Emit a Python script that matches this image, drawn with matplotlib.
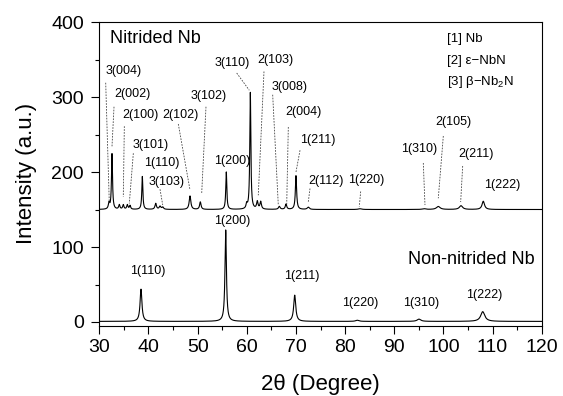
import numpy as np
import matplotlib
matplotlib.use("Agg")
import matplotlib.pyplot as plt

plt.rcParams["font.family"] = ["Liberation Sans", "DejaVu Sans"]
plt.rcParams["mathtext.fontset"] = "custom"
plt.rcParams["mathtext.rm"] = "Liberation Sans"
plt.rcParams["mathtext.it"] = "Liberation Sans"

# Picos de la muestra sin nitrurar (2theta, altura, ancho)
base_pos = [38.48, 55.71, 69.75, 82.48, 95.03, 108.0]
base_alt = [43, 122, 35, 1.5, 3, 13]
base_anc = [0.45, 0.35, 0.5, 0.8, 0.9, 1.0]
base_fondo = 0.8

# Picos de la muestra nitrurada (2theta, altura sobre el fondo, ancho)
nit_pos = [31.97, 32.58, 34.07, 34.88, 35.7, 36.25, 38.75, 41.47, 42.35, 42.9,
           48.45, 50.55, 55.83, 59.98, 60.72, 62.14, 62.83, 66.62, 67.98, 70.01,
           72.51, 83.03, 96.05, 98.96, 103.58, 108.11]
nit_alt = [8, 74, 6, 6, 6, 5, 44, 8, 4, 3,
           18, 10, 50, 6, 156, 10, 10, 4, 7, 45,
           3, 1, 1, 4, 5, 11]
nit_anc = [0.3, 0.25, 0.3, 0.3, 0.3, 0.3, 0.25, 0.35, 0.4, 0.4,
           0.4, 0.35, 0.25, 0.3, 0.25, 0.35, 0.35, 0.4, 0.35, 0.3,
           0.5, 0.8, 0.8, 0.9, 0.8, 0.6]
nit_fondo = 150

# Etiquetas de la muestra nitrurada: texto, posicion, inicio y fin de la linea guia
nit_etiquetas = ["3(004)", "2(002)", "2(100)", "2(102)", "3(101)", "1(110)", "3(103)",
                 "3(102)", "1(200)", "3(110)", "2(103)", "3(008)", "2(004)", "1(211)",
                 "2(112)", "1(220)", "1(310)", "2(105)", "2(211)", "1(222)"]
nit_etq_x = [34.88, 36.65, 38.28, 46.42, 40.52, 42.69, 43.71, 52.17, 56.93, 56.93,
             65.74, 68.65, 71.5, 74.35, 76.12, 84.39, 95.03, 102.01, 106.57, 111.86]
nit_etq_y = [335, 304, 276, 276, 236, 212, 187, 301, 215, 346,
             350, 314, 280, 243, 188, 190, 231, 267, 224, 183]

guia_x0 = [31.3, 32.99, 35.09, 46.07, 36.92, 42.35, 51.7, 57.95, 63.5, 65.27,
           68.45, 70.83, 72.86, 83.17, 95.91, 99.98, 103.92]
guia_y0 = [319, 287, 261, 264, 225, 177, 287, 332, 334, 303,
           260, 229, 178, 174, 212, 248, 208]
guia_x1 = [32.03, 32.58, 34.88, 48.45, 36.1, 42.9, 50.83, 60.51, 62.34, 66.41,
           68.12, 70.01, 72.51, 82.89, 96.25, 98.96, 103.51]
guia_y1 = [159, 234, 167, 176, 158, 156, 172, 309, 169, 156,
           156, 200, 160, 154, 156, 165, 160]

# Etiquetas de la muestra sin nitrurar
base_etiquetas = ["1(110)", "1(200)", "1(211)", "1(220)", "1(310)", "1(222)"]
base_etq_x = [39.76, 56.93, 71.17, 83.17, 95.38, 108.25]
base_etq_y = [68, 135, 61, 25, 25, 36]

leyenda = ["[1] Nb", "[2] \u03b5\u2212NbN", "[3] $\\beta$\u2212Nb$_2$N"]


# Perfil de difraccion a partir de la lista de picos
def perfil(x, pos, alt, anc, fondo):
    y = np.full_like(x, fondo)
    for p, h, w in zip(pos, alt, anc):
        y += h / (1 + ((x - p) / (w / 2)) ** 2)
    return y


x = np.linspace(30, 120, 6000)
y_base = perfil(x, base_pos, base_alt, base_anc, base_fondo)
y_nit = perfil(x, nit_pos, nit_alt, nit_anc, nit_fondo)

fig = plt.figure(figsize=(5.63, 3.96), dpi=100)
ax = fig.add_axes([0.1764, 0.1774, 0.7858, 0.767])

ax.plot(x, y_base, color="black", lw=0.8)
ax.plot(x, y_nit, color="black", lw=0.8)

# Lineas guia punteadas
for a, b, c, d in zip(guia_x0, guia_y0, guia_x1, guia_y1):
    ax.plot([a, c], [b, d], color="#444444", lw=0.6, linestyle=(0, (2, 1.5)))

for t, a, b in zip(nit_etiquetas, nit_etq_x, nit_etq_y):
    ax.text(a, b, t, fontsize=9, ha="center", va="center")
for t, a, b in zip(base_etiquetas, base_etq_x, base_etq_y):
    ax.text(a, b, t, fontsize=9, ha="center", va="center")

for i, t in enumerate(leyenda):
    ax.text(100.79, 377 - 28.5 * i, t, fontsize=9.5, ha="left", va="center")

ax.text(32.18, 378, "Nitrided Nb", fontsize=13, ha="left", va="center")
ax.text(105.71, 84, "Non-nitrided Nb", fontsize=13, ha="center", va="center")

ax.set_xlim(30, 120)
ax.set_ylim(-5, 400)
ax.set_xticks(np.arange(30, 121, 10))
ax.set_xticks(np.arange(35, 120, 10), minor=True)
ax.set_yticks(np.arange(0, 401, 100))
ax.set_yticks(np.arange(50, 400, 100), minor=True)
ax.tick_params(which="both", direction="out", labelsize=14, top=False, right=False)
ax.tick_params(which="major", length=6, width=0.8)
ax.tick_params(which="minor", length=3, width=0.8)
ax.tick_params(axis="y", which="major", pad=5)
ax.set_xlabel("2\u03b8 (Degree)", fontsize=16, labelpad=13)
ax.set_ylabel("Intensity (a.u.)", fontsize=16, labelpad=10)

plt.savefig("out.png", dpi=100)
